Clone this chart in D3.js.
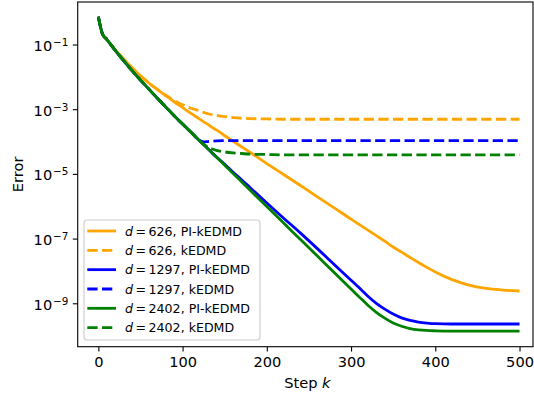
<!DOCTYPE html>
<html><head><meta charset="utf-8">
<script src="https://cdn.jsdelivr.net/npm/d3@7"></script>
<style>body{margin:0;background:#fff}svg{display:block}text{font-family:"DejaVu Sans",sans-serif}</style>
</head><body><svg id="c" width="534" height="396"></svg>
<script>
const steps = [0,5,10,20,30,40,50,60,70,80,90,100,110,120,125,130,135,140,150,160,170,180,200,220,240,260,280,300,310,320,330,340,350,360,370,380,390,400,420,440,460,480,500];
// log10(Error) for each series
const logErrPI626 = [-0.14,-0.68,-0.84,-1.16,-1.45,-1.72,-1.97,-2.19,-2.39,-2.58,-2.77,-2.95,-3.13,-3.30,-3.39,-3.47,-3.56,-3.64,-3.82,-3.99,-4.16,-4.33,-4.68,-5.02,-5.36,-5.71,-6.05,-6.40,-6.57,-6.74,-6.91,-7.08,-7.26,-7.42,-7.58,-7.74,-7.89,-8.03,-8.27,-8.44,-8.54,-8.59,-8.62];
const logErrK626 = [-0.14,-0.68,-0.84,-1.16,-1.45,-1.72,-1.97,-2.19,-2.39,-2.57,-2.73,-2.86,-2.97,-3.05,-3.10,-3.14,-3.17,-3.19,-3.23,-3.26,-3.28,-3.29,-3.30,-3.31,-3.31,-3.31,-3.31,-3.31,-3.31,-3.31,-3.31,-3.31,-3.31,-3.31,-3.31,-3.31,-3.31,-3.31,-3.31,-3.31,-3.31,-3.31,-3.31];
const logErrPI1297 = [-0.14,-0.68,-0.84,-1.18,-1.50,-1.81,-2.10,-2.38,-2.66,-2.93,-3.20,-3.46,-3.71,-3.97,-4.09,-4.22,-4.35,-4.47,-4.70,-4.95,-5.18,-5.42,-5.90,-6.37,-6.83,-7.31,-7.80,-8.29,-8.53,-8.78,-9.00,-9.18,-9.33,-9.45,-9.53,-9.58,-9.61,-9.63,-9.64,-9.64,-9.64,-9.64,-9.64];
const logErrK1297 = [-0.14,-0.68,-0.84,-1.18,-1.50,-1.81,-2.10,-2.38,-2.66,-2.93,-3.20,-3.46,-3.71,-3.97,-4.01,-4.00,-3.99,-3.98,-3.97,-3.97,-3.97,-3.97,-3.97,-3.97,-3.97,-3.97,-3.97,-3.97,-3.97,-3.97,-3.97,-3.97,-3.97,-3.97,-3.97,-3.97,-3.97,-3.97,-3.97,-3.97,-3.97,-3.97,-3.97];
const logErrPI2402 = [-0.14,-0.68,-0.84,-1.18,-1.50,-1.81,-2.10,-2.38,-2.66,-2.93,-3.20,-3.46,-3.71,-3.97,-4.09,-4.22,-4.35,-4.48,-4.73,-4.99,-5.24,-5.50,-6.01,-6.52,-7.03,-7.54,-8.05,-8.56,-8.81,-9.06,-9.28,-9.46,-9.61,-9.71,-9.78,-9.82,-9.84,-9.85,-9.86,-9.86,-9.86,-9.86,-9.86];
const logErrK2402 = [-0.14,-0.68,-0.84,-1.18,-1.50,-1.81,-2.10,-2.38,-2.66,-2.93,-3.20,-3.46,-3.71,-3.97,-4.09,-4.17,-4.23,-4.27,-4.32,-4.35,-4.37,-4.39,-4.40,-4.41,-4.41,-4.41,-4.41,-4.41,-4.41,-4.41,-4.41,-4.41,-4.41,-4.41,-4.41,-4.41,-4.41,-4.41,-4.41,-4.41,-4.41,-4.41,-4.41];

const seriesNames = ["626, PI-kEDMD","626, kEDMD","1297, PI-kEDMD","1297, kEDMD","2402, PI-kEDMD","2402, kEDMD"];
const seriesValues = [logErrPI626, logErrK626, logErrPI1297, logErrK1297, logErrPI2402, logErrK2402];
const seriesColors = ["#FFA500","#FFA500","#0000FF","#0000FF","#008000","#008000"];
const seriesDashed = [false,true,false,true,false,true];
const xTicks = [0,100,200,300,400,500];
const yTickExps = [-1,-3,-5,-7,-9];

const L = 77.7, R = 533, T = 2, B = 346.7;
const FS = "14.6px";
const svg = d3.select("#c");
const x = d3.scaleLinear().domain([-24.5, 516]).range([L, R]);
const y = d3.scaleLog().domain([Math.pow(10,-10.342), Math.pow(10,0.314)]).range([B, T]);

const line = d3.line().x(d => x(d[0])).y(d => y(d[1])).curve(d3.curveMonotoneX);
const plot = svg.append("g");
seriesValues.forEach((vals, i) => {
  const pts = steps.map((k, j) => [k, Math.pow(10, vals[j])]);
  plot.append("path").attr("d", line(pts)).attr("fill","none")
    .attr("stroke", seriesColors[i]).attr("stroke-width", 2.8)
    .attr("stroke-dasharray", seriesDashed[i] ? "10.3,4.4" : null)
    .attr("stroke-linejoin","round");
});

// axes
const xa = svg.append("g").attr("transform",`translate(0,${B})`)
  .call(d3.axisBottom(x).tickValues(xTicks).tickSize(4.9).tickPadding(4.6).tickSizeOuter(0));
xa.select(".domain").remove();
xa.selectAll("text").attr("font-size",FS).attr("font-family","DejaVu Sans").attr("fill","#000");
xa.selectAll("line").attr("stroke","#000").attr("stroke-width",1.1);

const ya = svg.append("g").attr("transform",`translate(${L},0)`)
  .call(d3.axisLeft(y).tickValues(yTickExps.map(e => Math.pow(10,e))).tickSize(4.9).tickPadding(4.5).tickSizeOuter(0).tickFormat(""));
ya.select(".domain").remove();
ya.selectAll("line").attr("stroke","#000").attr("stroke-width",1.1);
ya.selectAll(".tick text").each(function(d){
  const t = d3.select(this).attr("font-size",FS).attr("font-family","DejaVu Sans").attr("fill","#000").attr("dy","0.4em");
  t.append("tspan").text("10");
  t.append("tspan").attr("font-size","10.4px").attr("dx","0.8").attr("dy","-4.8").text("\u2212" + Math.abs(Math.round(Math.log10(d))));
});

svg.append("rect").attr("x",L).attr("y",T).attr("width",R-L).attr("height",B-T)
  .attr("fill","none").attr("stroke","#000").attr("stroke-width",1.1);

svg.append("text").attr("x",(L+R)/2 + 2).attr("y",388).attr("text-anchor","middle").attr("font-size",FS)
  .call(t => { t.append("tspan").text("Step "); t.append("tspan").attr("font-style","italic").text("k"); });
svg.append("text").attr("transform",`translate(22.5,${(T+B)/2}) rotate(-90)`).attr("text-anchor","middle")
  .attr("font-size",FS).text("Error");

// legend
const lg = svg.append("g");
lg.append("rect").attr("x",84).attr("y",220).attr("width",176).attr("height",120).attr("rx",2.8)
  .attr("fill","#fff").attr("fill-opacity",0.8).attr("stroke","#cccccc").attr("stroke-width",1.1);
seriesNames.forEach((nm, i) => {
  const cy = 231 + i*19.33;
  lg.append("line").attr("x1",87.3).attr("x2",116).attr("y1",cy).attr("y2",cy)
    .attr("stroke",seriesColors[i]).attr("stroke-width",2.8)
    .attr("stroke-dasharray", seriesDashed[i] ? "10.3,4.4" : null);
  const t = lg.append("text").attr("x",125).attr("y",cy+4.6).attr("font-size","12.6px");
  t.append("tspan").attr("font-style","italic").text("d");
  t.append("tspan").text("\u2009=\u2009" + nm);
});
</script></body></html>
